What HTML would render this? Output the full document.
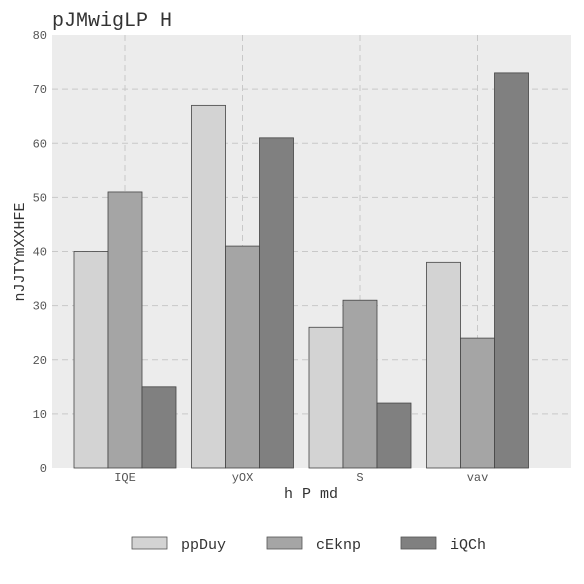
<!DOCTYPE html>
<html><head><meta charset="utf-8"><style>
body{margin:0;background:#fff}
svg{display:block;font-family:"Liberation Mono",monospace}
</style></head><body>
<svg id="chart" width="584" height="584">
<rect x="52" y="35" width="519" height="433" fill="#ececec"/>
<g id="grid"></g><g id="bars"></g><g id="axes"></g>
<text x="52" y="26" font-size="20" fill="#333">pJMwigLP H</text>
<text x="311" y="498" font-size="15" fill="#333" text-anchor="middle">h P md</text>
<text transform="translate(24,252) rotate(-90)" font-size="15" fill="#333" text-anchor="middle">nJJTYmXXHFE</text>
<g id="legend"></g>
</svg>
<script>
const categories=["IQE","yOX","S","vav"];
const seriesNames=["ppDuy","cEknp","iQCh"];
const s1=[40,67,26,38];
const s2=[51,41,31,24];
const s3=[15,61,12,73];
const yTicks=[0,10,20,30,40,50,60,70,80];
const colors=["#d3d3d3","#a5a5a5","#808080"];
const NS="http://www.w3.org/2000/svg";
const y=v=>468-v*(433/80);
const xc=i=>125+i*117.5;
const bw=34;
function mk(t,a,p){const e=document.createElementNS(NS,t);for(const k in a)e.setAttribute(k,a[k]);p.appendChild(e);return e;}
const grid=document.getElementById('grid'),bars=document.getElementById('bars'),axes=document.getElementById('axes'),leg=document.getElementById('legend');
yTicks.forEach(t=>{
  if(t>0&&t<80){const l=mk('line',{x1:52,x2:571,y1:y(t),y2:y(t),stroke:'#c8c8c8','stroke-dasharray':'6,4'},grid);
  
  }
  const tx=mk('text',{x:47,y:y(t)+4,'font-size':12,fill:'#555','text-anchor':'end'},axes);
  tx.textContent=t;
  
  
});
categories.forEach((c,i)=>{
  const l=mk('line',{x1:xc(i),x2:xc(i),y1:35,y2:468,stroke:'#c8c8c8','stroke-dasharray':'6,4'},grid);
  
  
  const tx=mk('text',{x:xc(i),y:481,'font-size':12,fill:'#555','text-anchor':'middle'},axes);
  tx.textContent=c;
  
  
});
[s1,s2,s3].forEach((s,k)=>{
  s.forEach((v,i)=>{
    const r=mk('rect',{x:xc(i)-1.5*bw+k*bw,y:y(v),width:bw,height:468-y(v),fill:colors[k],stroke:'#444','stroke-width':0.8},bars);
    
    
  });
});
const lx=[132,267,401];
seriesNames.forEach((n,k)=>{
  const g=mk('g',{},leg);
  
  
  mk('rect',{x:lx[k],y:537,width:35,height:12,fill:colors[k],stroke:'#555','stroke-width':0.8},g);
  const t=mk('text',{x:lx[k]+49,y:549,'font-size':15,fill:'#333'},g);
  t.textContent=n;
});
</script>
</body></html>
